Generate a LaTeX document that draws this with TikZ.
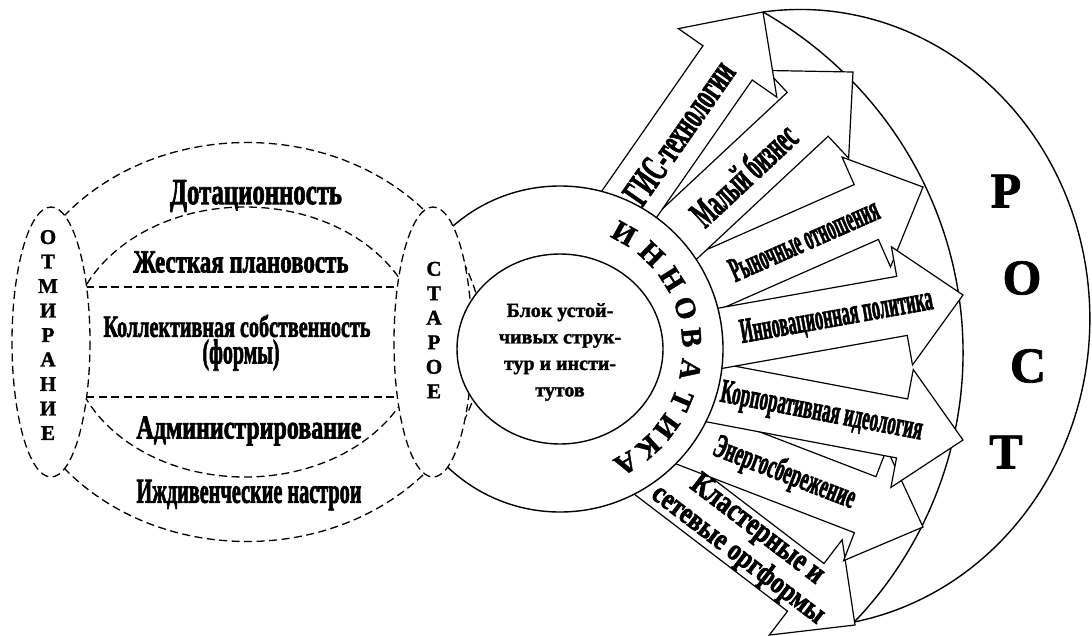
\documentclass[tikz,border=0pt]{standalone}
\usepackage{fontspec}
\usepackage{graphicx}
\setmainfont{Liberation Serif}
\newfontfamily\bsf{Liberation Serif}[UprightFont=* Bold, FakeBold=1.5]
\newfontfamily\wa{Liberation Serif}[UprightFont=* Bold, FakeBold=2.5]
\usetikzlibrary{calc}
\newcommand{\wt}[3]{\resizebox{#1pt}{#2pt}{\wa #3}}
\newcommand{\barrow}[3]{%
  \coordinate (#1b) at ($(#3)!62pt!(#2)$);
  \coordinate (#1s) at ($(#2)!-22pt!(#3)$);
  \draw[arrbox] ($(#1s)!30pt!90:(#3)$) -- ($(#1b)!30pt!90:(#3)$) -- ($(#1b)!60pt!90:(#3)$)
    -- (#3) -- ($(#1b)!60pt!-90:(#3)$) -- ($(#1b)!30pt!-90:(#3)$) -- ($(#1s)!30pt!-90:(#3)$) -- cycle;}
\begin{document}
\begin{tikzpicture}[x=1pt,y=-1pt,
  dsh/.style={draw, line width=1.3pt, dash pattern=on 8pt off 4.5pt},
  solidln/.style={draw, line width=1.4pt},
  arrbox/.style={draw, fill=white, line width=1.2pt, line join=miter, miter limit=20},
  ringltr/.style={font=\fontsize{29}{29}\bsf, inner sep=0pt},
  vlet/.style={font=\fontsize{21}{24.5}\bsf, align=center, inner sep=0pt},
  rost/.style={font=\fontsize{50}{50}\bsf, inner sep=0pt},
  lab/.style={inner sep=0pt, sloped},
  txt/.style={inner sep=0pt}]
\useasboundingbox (0,0) rectangle (1092,635);
\fill[white] (0,0) rectangle (1092,635);

\coordinate (C) at (560,349);
\coordinate (P1) at (763,12);
\coordinate (P2) at (853,72);
\coordinate (P3) at (923,187);
\coordinate (P4) at (963,295);
\coordinate (P5) at (963,440);
\coordinate (P6) at (923,527);
\coordinate (P7) at (855,625);
\coordinate (M1) at ($(C)+(-64.2:165)$);
\coordinate (M2) at ($(C)+(-43.9:165)$);
\coordinate (M3) at ($(C)+(-24.4:165)$);
\coordinate (M4) at ($(C)+(-4:165)$);
\coordinate (M5) at ($(C)+(15.7:165)$);
\coordinate (M6) at ($(C)+(33.5:165)$);
\coordinate (M7) at ($(C)+(51.5:165)$);

% growth arcs
\draw[solidln] (P1) arc[start angle=-97.3, end angle=79.1, x radius=290, y radius=309];
\draw[solidln] (P1) arc[start angle=-59.6, end angle=43.8, x radius=405, y radius=395];

% arrows
\barrow{a3}{M3}{P3}
\barrow{a2}{M2}{P2}
\barrow{a1}{M1}{P1}
\barrow{a7}{M7}{P7}
\barrow{a6}{M6}{P6}
\barrow{a5}{M5}{P5}
\barrow{a4}{M4}{P4}

% ring
\draw[solidln, fill=white] (C) circle[radius=163];

% left dashed structure
\begin{scope}
  \clip (30,0) rectangle (700,635);
  \draw[dsh] (247,342) ellipse[x radius=236, y radius=199.5];
\end{scope}
\draw[dsh] (245,342) ellipse[x radius=175, y radius=135];
\draw[dsh] (86,287) -- (398,287);
\draw[dsh] (86,397) -- (398,397);
\draw[dsh, fill=white] (51,342) ellipse[x radius=39, y radius=135];
\draw[dsh, fill=white] (433,342) ellipse[x radius=39, y radius=135];

% inner circle
\draw[solidln, fill=white] (C) ellipse[x radius=103, y radius=95];

% ring letters
\foreach \a/\l [count=\i] in {-61/И,-46/Н,-32/Н,-18/О,-5/В,9/А,23/Т,36/И,48/К,60/А}
  \node[ringltr, rotate={-(\a)-90}] (r\i) at ($(C)+(\a:132)$) {\l};

% center text
\node[align=center, font=\fontsize{20}{26.5}\bsf] (blk) at (560,352)
  {Блок устой-\\чивых струк-\\тур и инсти-\\тутов};

% vertical words
\node[vlet] (otm) at (48,335) {О\\Т\\М\\И\\Р\\А\\Н\\И\\Е};
\node[vlet] (star) at (434,330) {С\\Т\\А\\Р\\О\\Е};

% left labels
\node[txt] (dot) at (256,196) {\wt{172}{24}{Дотационность}};
\node[txt] (zhp) at (241,262) {\wt{215}{21}{Жесткая плановость}};
\node[txt] (kol) at (237,326) {\wt{267}{22}{Коллективная собственность}};
\node[txt] (frm) at (241,355) {\wt{77}{24}{(формы)}};
\node[txt] (adm) at (249,431) {\wt{225}{22}{Администрирование}};
\node[txt] (izh) at (249,495) {\wt{225}{23}{Иждивенческие настрои}};

% arrow labels
\path (M1) -- (P1) node[lab, pos=0.36] (l1) {\wt{165}{26}{ГИС-технологии}};
\path (M2) -- (P2) node[lab, pos=0.37] (l2) {\wt{130}{28}{Малый бизнес}};
\path (M3) -- (P3) node[lab, pos=0.44] (l3) {\wt{160}{23}{Рыночные отношения}};
\path (M4) -- (P4) node[lab, pos=0.47] (l4) {\wt{195}{23}{Инновационная политика}};
\path (M5) -- (P5) node[lab, pos=0.42] (l5) {\wt{205}{22}{Корпоративная идеология}};
\path (M6) -- (P6) node[lab, pos=0.385] (l6) {\wt{150}{24}{Энергосбережение}};
\path (M7) -- (P7) node[lab, pos=0.44, anchor=south, inner sep=1.5pt] (l7a) {\wt{160}{21}{Кластерные и}}
                   node[lab, pos=0.44, anchor=north, inner sep=1.5pt] (l7b) {\wt{210}{21}{сетевые оргформы}};

% growth letters
\node[rost] (gP) at (1006,191) {Р};
\node[rost] (gO) at (1022,278) {О};
\node[rost] (gS) at (1028,366) {С};
\node[rost] (gT) at (1006,452) {Т};
\end{tikzpicture}
\end{document}
